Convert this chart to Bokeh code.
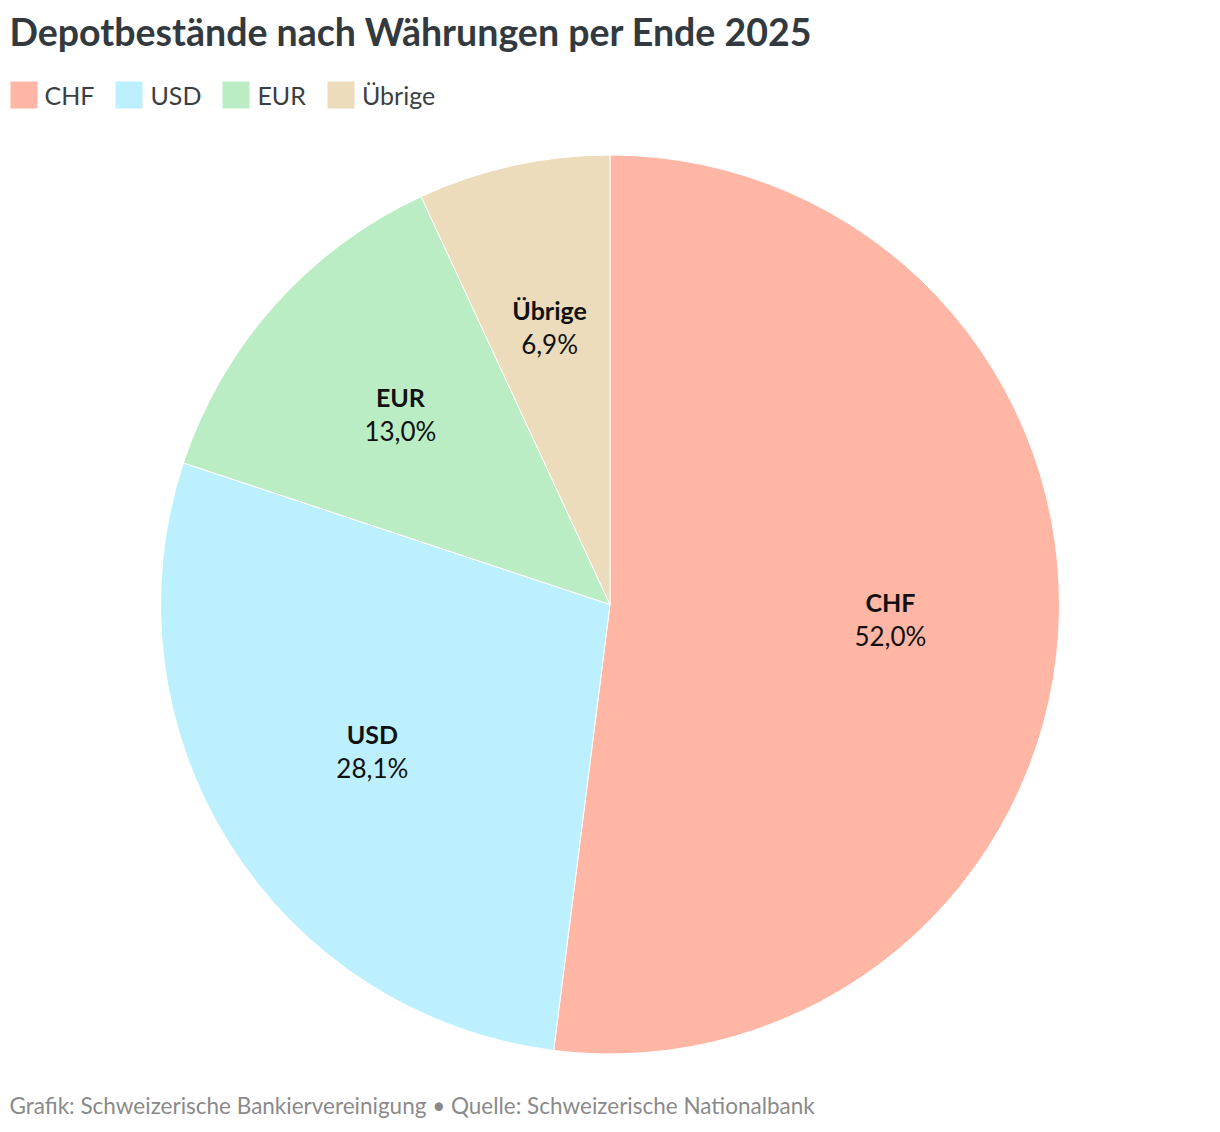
import numpy as np
from bokeh.plotting import figure
from bokeh.models import ColumnDataSource, Range1d, Legend, LegendItem
from bokeh.core.properties import value
from bokeh.embed import file_html
from bokeh.resources import INLINE

# Data
currencies = ["CHF", "USD", "EUR", "Übrige"]
shares = [52.0, 28.1, 13.0, 6.9]
share_labels = ["52,0%", "28,1%", "13,0%", "6,9%"]
colors = ["#ffb6a5", "#bdf0fe", "#bbedc4", "#ecdcbb"]

title = "Depotbestände nach Währungen per Ende 2025"
footer = "Grafik: Schweizerische Bankiervereinigung • Quelle: Schweizerische Nationalbank"

W, H = 1204, 1124
FONT = "Lato"

def sy(screen_y):
    # screen px (from top of picture) -> data y
    return H - screen_y

# Pie geometry
cx, cy, R = 609.5, sy(604), 449.5

frac = np.array(shares) / sum(shares)
cum = np.concatenate([[0], np.cumsum(frac)])
start = np.pi / 2 - cum[:-1] * 2 * np.pi
end = np.pi / 2 - cum[1:] * 2 * np.pi
mid = (start + end) / 2
lx = cx + 0.625 * R * np.cos(mid)
ly = cy + 0.625 * R * np.sin(mid)

source = ColumnDataSource(data=dict(
    currency=currencies, label=share_labels, color=colors,
    start=start, end=end, lx=lx, ly=ly))

p = figure(width=W, height=H, x_range=Range1d(0, W), y_range=Range1d(0, H),
           output_backend="svg", toolbar_location=None, tools="",
           min_border=0, outline_line_color=None)
p.axis.visible = False
p.grid.visible = False
p.background_fill_color = "white"

wedges = p.wedge(x=cx, y=cy, radius=R, start_angle="start", end_angle="end",
                 direction="clock", fill_color="color", line_color="white",
                 line_width=1, source=source)

# Slice labels
p.text(x="lx", y="ly", text="currency", source=source, y_offset=-20,
       text_align="center", text_baseline="middle", text_font=value(FONT),
       text_font_style="bold", text_font_size="25px", text_color="#111111")
p.text(x="lx", y="ly", text="label", source=source, y_offset=14,
       text_align="center", text_baseline="middle", text_font=value(FONT),
       text_font_size="26px", text_color="#111111")

# Title and footer
p.text(x=[9], y=[sy(31)], text=[title], text_font=value(FONT),
       text_font_style="bold", text_font_size="37.5px", text_color="#333a3f",
       text_baseline="middle")
p.text(x=[9], y=[sy(1104.5)], text=[footer], text_font=value(FONT),
       text_font_size="22.5px", text_color="#8a8a8a", text_baseline="middle")

# Legend
items = [LegendItem(label=c, renderers=[wedges], index=i) for i, c in enumerate(currencies)]
legend = Legend(items=items, orientation="horizontal", location=(5.5, sy(112)),
                glyph_width=35, glyph_height=35, label_standoff=4, spacing=17,
                padding=0, margin=0, border_line_color=None,
                background_fill_alpha=0, label_text_font=FONT,
                label_text_font_size="25px", label_text_color="#3a3f44",
                label_height=35)
p.add_layout(legend)

open("out.html", "w").write(file_html(p, INLINE))
